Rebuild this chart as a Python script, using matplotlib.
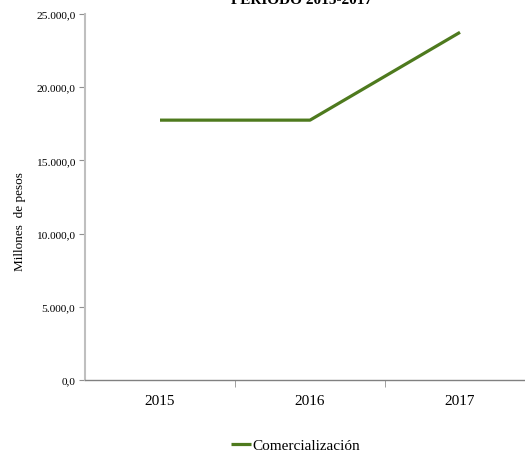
import matplotlib
matplotlib.use("Agg")
import matplotlib.pyplot as plt
from matplotlib.ticker import FuncFormatter, FixedLocator

years = ["2015", "2016", "2017"]
comercializacion = [17750.0, 17750.0, 23750.0]
y_ticks = [0, 5000, 10000, 15000, 20000, 25000]

plt.rcParams["font.family"] = ["Liberation Serif", "DejaVu Serif"]


def es_fmt(v, _pos):
    s = f"{v:,.1f}"
    return s.replace(",", "X").replace(".", ",").replace("X", ".")


fig = plt.figure(figsize=(5.25, 4.6), dpi=100)
ax = fig.add_axes([85 / 525, 1 - 381 / 460, 450 / 525, 366 / 460])

x = range(len(years))
line, = ax.plot(x, comercializacion, color="#4E7A1E", lw=2.3,
                solid_capstyle="butt", label="Comercialización")

ax.set_xlim(-0.5, 2.5)
ax.set_ylim(0, 25000)
ax.set_yticks(y_ticks)
ax.yaxis.set_major_formatter(FuncFormatter(es_fmt))
ax.set_xticks(list(x))
ax.set_xticklabels(years, fontsize=11)
ax.xaxis.set_minor_locator(FixedLocator([0.5, 1.5]))
ax.tick_params(axis="x", which="major", length=0, pad=10)
ax.tick_params(axis="x", which="minor", length=5, color="#909090")
ax.tick_params(axis="y", length=4, color="#909090", labelsize=8.2, pad=3)

for s in ("top", "right"):
    ax.spines[s].set_visible(False)
ax.spines["left"].set_color("#BFBFBF")
ax.spines["left"].set_linewidth(1.5)
ax.spines["bottom"].set_color("#808080")
ax.spines["bottom"].set_linewidth(1.0)

fig.text(20 / 525, 1 - 222 / 460, "Millones  de pesos", rotation=90,
         ha="center", va="center", fontsize=9.5)
fig.text(302 / 525, 1 - 4 / 460, "PERIODO 2015-2017", ha="center",
         va="baseline", fontsize=11, fontweight="bold")

fig.legend(handles=[line], loc="center", bbox_to_anchor=(296 / 525, 1 - 446 / 460),
           frameon=False, fontsize=11, handlelength=1.3, handletextpad=0.1)

fig.savefig("out.png", dpi=100)
